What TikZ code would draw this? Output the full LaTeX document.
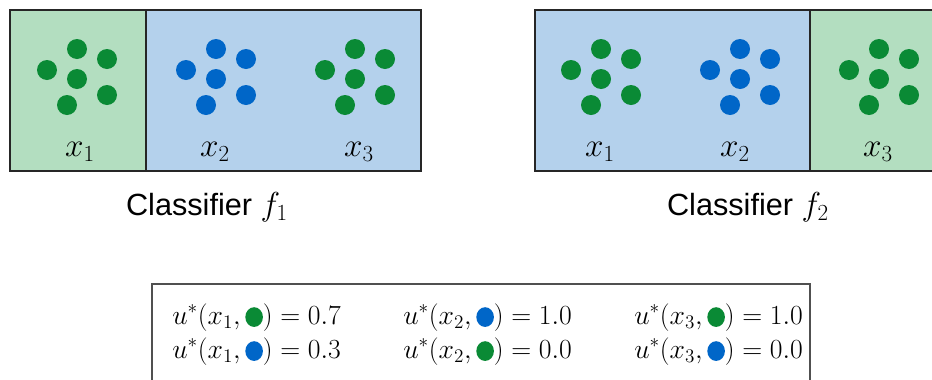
\documentclass[tikz,border=0pt]{standalone}
\usepackage{fontspec}
\setmainfont{Liberation Sans}
\definecolor{dgreen}{HTML}{0A8A35}
\definecolor{dblue}{HTML}{0066C8}
\definecolor{bggreen}{HTML}{B3DEC0}
\definecolor{bgblue}{HTML}{B4D1EC}
\definecolor{boxgray}{HTML}{505050}
\newcommand{\gdot}[1]{\tikz[baseline={(0,-5.2pt)}]\fill[#1] (0,0) ellipse (6.6pt and 7.4pt);}
\tikzset{
  panel/.style={draw=black!85, line width=1.5pt},
  lbl/.style={inner sep=0pt, font=\fontsize{26pt}{30pt}\selectfont},
  cls/.style={inner sep=0pt, font=\fontsize{23pt}{27pt}\selectfont},
  eq/.style={inner sep=0pt, anchor=base west, font=\fontsize{20.6pt}{25pt}\selectfont},
}
\newcommand{\cluster}[3]{%
  \foreach \dx/\dy in {47/70, 77/49, 107/59, 77/79, 107/95, 67/105}
    \fill[#3] ({#1+\dx},{#2+\dy}) circle (10);}
\begin{document}
\begin{tikzpicture}[x=0.75pt,y=-0.75pt]
\clip (0,0) rectangle (932,379);
\fill[white] (0,0) rectangle (932,379);
% left panel
\fill[bggreen] (10,10) rectangle (146,171);
\fill[bgblue] (146,10) rectangle (421,171);
\draw[panel] (10,10) rectangle (421,171);
\draw[panel] (146,10) -- (146,171);
\cluster{0}{0}{dgreen}
\cluster{139}{0}{dblue}
\cluster{278}{0}{dgreen}
\node[lbl] (l1) at (80,152) {$x_1$};
\node[lbl] (l2) at (215,152) {$x_2$};
\node[lbl] (l3) at (359,152) {$x_3$};
\node[cls] (c1) at (207,207) {Classifier $f_1$};
% right panel
\fill[bgblue] (535,10) rectangle (810,171);
\fill[bggreen] (810,10) rectangle (945,171);
\draw[panel] (535,10) rectangle (945,171);
\draw[panel] (810,10) -- (810,171);
\cluster{524}{0}{dgreen}
\cluster{663}{0}{dblue}
\cluster{802}{0}{dgreen}
\node[lbl] (r1) at (600,152) {$x_1$};
\node[lbl] (r2) at (735,152) {$x_2$};
\node[lbl] (r3) at (878,152) {$x_3$};
\node[cls] (c2) at (748,207) {Classifier $f_2$};
% bottom box
\draw[boxgray, line width=1.2pt] (152,390) -- (152,284) -- (810,284) -- (810,390);
\node[eq] (e11) at (172,324) {$u^*(x_1,\gdot{dgreen})=0.7$};
\node[eq] (e21) at (172,358) {$u^*(x_1,\gdot{dblue})=0.3$};
\node[eq] (e12) at (403,324) {$u^*(x_2,\gdot{dblue})=1.0$};
\node[eq] (e22) at (403,358) {$u^*(x_2,\gdot{dgreen})=0.0$};
\node[eq] (e13) at (634,324) {$u^*(x_3,\gdot{dgreen})=1.0$};
\node[eq] (e23) at (634,358) {$u^*(x_3,\gdot{dblue})=0.0$};
\end{tikzpicture}
\end{document}
